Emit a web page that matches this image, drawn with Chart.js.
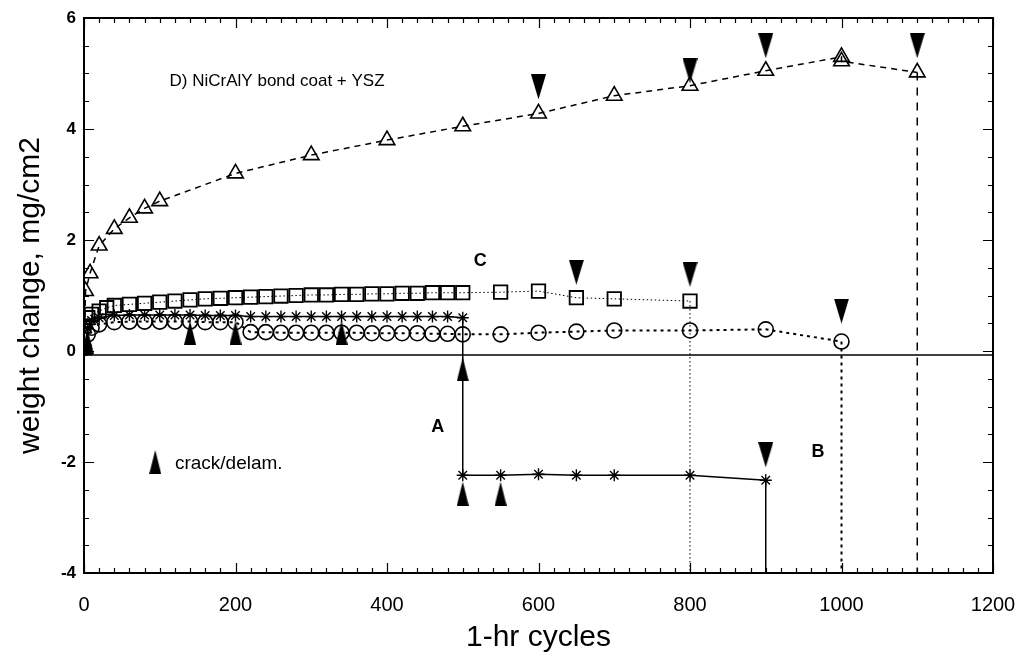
<!DOCTYPE html>
<html>
<head>
<meta charset="utf-8">
<script src="https://cdn.jsdelivr.net/npm/chart.js@4.4.0/dist/chart.umd.min.js"></script>
<style>
  html, body { margin: 0; padding: 0; background: #fff; }
  #wrap { width: 1024px; height: 658px; }
</style>
</head>
<body>
<div id="wrap"><canvas id="chart" width="1024" height="658"></canvas></div>
<script>
// D) NiCrAlY bond coat + YSZ  (open triangles, dashed)
const xD = [0, 2, 8, 20, 40, 60, 80, 100, 200, 300, 400, 500, 600, 700, 800, 900, 1000, 1000, 1100];
const yD = [0.02, 1.08, 1.4, 1.9, 2.2, 2.4, 2.57, 2.7, 3.2, 3.53, 3.8, 4.05, 4.28, 4.6, 4.78, 5.05, 5.3, 5.22, 5.02];

// C (squares, fine dots)
const xC = [0, 5, 10, 20, 30, 40, 60, 80, 100, 120, 140, 160, 180, 200, 220, 240, 260, 280, 300, 320, 340, 360, 380, 400, 420, 440, 460, 480, 500, 550, 600, 650, 700, 800];
const yC = [0.45, 0.6, 0.66, 0.72, 0.78, 0.82, 0.84, 0.86, 0.88, 0.9, 0.92, 0.94, 0.95, 0.96, 0.97, 0.98, 0.99, 1.0, 1.01, 1.01, 1.02, 1.02, 1.03, 1.03, 1.04, 1.04, 1.05, 1.05, 1.05, 1.06, 1.08, 0.96, 0.94, 0.9];

// B (circles, coarse dots)
const xB = [0, 5, 10, 20, 40, 60, 80, 100, 120, 140, 160, 180, 200, 220, 240, 260, 280, 300, 320, 340, 360, 380, 400, 420, 440, 460, 480, 500, 550, 600, 650, 700, 800, 900, 1000];
const yB = [0.05, 0.3, 0.42, 0.48, 0.52, 0.53, 0.53, 0.53, 0.53, 0.53, 0.52, 0.52, 0.52, 0.34, 0.34, 0.33, 0.33, 0.33, 0.33, 0.33, 0.33, 0.32, 0.32, 0.32, 0.32, 0.31, 0.31, 0.3, 0.3, 0.33, 0.35, 0.37, 0.37, 0.39, 0.17];

// A (asterisks, solid)
const xA = [0, 5, 10, 20, 40, 60, 80, 100, 120, 140, 160, 180, 200, 220, 240, 260, 280, 300, 320, 340, 360, 380, 400, 420, 440, 460, 480, 500, 500, 550, 600, 650, 700, 800, 900];
const yA = [0.02, 0.4, 0.55, 0.6, 0.64, 0.65, 0.65, 0.65, 0.65, 0.65, 0.64, 0.64, 0.64, 0.62, 0.62, 0.62, 0.62, 0.62, 0.62, 0.62, 0.62, 0.62, 0.62, 0.62, 0.62, 0.62, 0.62, 0.6, -2.24, -2.24, -2.22, -2.24, -2.24, -2.24, -2.33];

// end-of-test drop lines (x, y from, y to)
const dropA = { x: 900, from: -2.33, to: -4 };
const dropB = { x: 1000, from: 0.17, to: -4 };
const dropC = { x: 800, from: 0.9, to: -4 };
const dropD = { x: 1100, from: 5.02, to: -4 };

// failure markers (filled, pointing down)
const failX = [600, 800, 900, 1100, 650, 800, 1000, 900];
const failY = [4.76, 5.05, 5.5, 5.5, 1.42, 1.38, 0.72, -1.87];

// crack/delam. markers (filled, pointing up)
const crackX = [5, 140, 200, 340, 500, 500, 550];
const crackY = [0.16, 0.33, 0.33, 0.33, -0.33, -2.57, -2.57];

const zeroLineY = -0.07;

const xTicks = [0, 200, 400, 600, 800, 1000, 1200];
const yTicks = [-4, -2, 0, 2, 4, 6];

const FONT = '"Liberation Sans", Arial, sans-serif';

function pts(xs, ys) {
  return xs.map((x, i) => ({ x: x, y: ys[i] }));
}

function arrowImage(down, w, h) {
  const c = document.createElement('canvas');
  c.width = w; c.height = h;
  const g = c.getContext('2d');
  g.fillStyle = '#000';
  g.beginPath();
  if (down) {
    g.moveTo(0, 0); g.lineTo(w, 0); g.lineTo(w / 2, h);
  } else {
    g.moveTo(w / 2, 0); g.lineTo(w, h); g.lineTo(0, h);
  }
  g.closePath();
  g.fill();
  return c;
}

const downArrow = arrowImage(true, 15, 25);
const upArrow = arrowImage(false, 12, 24);

const noFill = 'rgba(255,255,255,0)';

function drop(d, dash, width) {
  return {
    data: [{ x: d.x, y: d.from }, { x: d.x, y: d.to }],
    showLine: true, borderColor: '#000', borderWidth: width, borderDash: dash,
    pointRadius: 0
  };
}

const annotations = {
  id: 'annotations',
  beforeDatasetsDraw(chart) {
    const { ctx, chartArea: a, scales: { x, y } } = chart;
    ctx.save();
    ctx.strokeStyle = '#000';
    ctx.lineWidth = 2;
    ctx.strokeRect(a.left, a.top, a.right - a.left, a.bottom - a.top);
    ctx.lineWidth = 1.2;
    ctx.beginPath();
    for (let v = 0; v <= 1200; v += 20) {
      const px = Math.round(x.getPixelForValue(v)) + 0.5;
      const len = v % 200 === 0 ? 10 : 5;
      ctx.moveTo(px, a.bottom); ctx.lineTo(px, a.bottom - len);
      ctx.moveTo(px, a.top); ctx.lineTo(px, a.top + len);
    }
    for (let v = -4; v <= 6; v += 0.5) {
      const py = Math.round(y.getPixelForValue(v)) + 0.5;
      const len = v % 2 === 0 ? 10 : 5;
      ctx.moveTo(a.left, py); ctx.lineTo(a.left + len, py);
      ctx.moveTo(a.right, py); ctx.lineTo(a.right - len, py);
    }
    ctx.stroke();
    ctx.restore();
  },
  afterDatasetsDraw(chart) {
    const { ctx, scales: { x, y } } = chart;
    ctx.save();
    ctx.fillStyle = '#000';
    ctx.textBaseline = 'middle';
    ctx.font = '17px ' + FONT;
    ctx.textAlign = 'left';
    ctx.fillText('D) NiCrAlY bond coat + YSZ', x.getPixelForValue(113), y.getPixelForValue(4.86));
    ctx.font = '19px ' + FONT;
    ctx.fillText('crack/delam.', x.getPixelForValue(120), y.getPixelForValue(-2.04));
    ctx.font = 'bold 18px ' + FONT;
    ctx.textAlign = 'center';
    ctx.fillText('C', x.getPixelForValue(523), y.getPixelForValue(1.62));
    ctx.fillText('A', x.getPixelForValue(467), y.getPixelForValue(-1.37));
    ctx.fillText('B', x.getPixelForValue(969), y.getPixelForValue(-1.82));
    // legend key for crack/delam.
    const kx = x.getPixelForValue(94), ky = y.getPixelForValue(-2.0);
    ctx.drawImage(upArrow, kx - upArrow.width / 2, ky - upArrow.height / 2);
    ctx.restore();
  }
};

new Chart(document.getElementById('chart'), {
  type: 'scatter',
  data: {
    datasets: [
      { data: pts(failX, failY), pointStyle: downArrow, pointRadius: 8, showLine: false },
      { data: pts(crackX, crackY), pointStyle: upArrow, pointRadius: 8, showLine: false },
      {
        data: pts(xD, yD), showLine: true, borderColor: '#000', borderWidth: 1.5, borderDash: [6, 5],
        pointStyle: 'triangle', pointRadius: 9, pointBorderWidth: 1.6, pointBackgroundColor: noFill, pointBorderColor: '#000'
      },
      {
        data: pts(xC, yC), showLine: true, borderColor: '#000', borderWidth: 1, borderDash: [1.5, 2.5],
        pointStyle: 'rect', pointRadius: 9.5, pointBorderWidth: 1.8, pointBackgroundColor: noFill, pointBorderColor: '#000'
      },
      {
        data: pts(xB, yB), showLine: true, borderColor: '#000', borderWidth: 2, borderDash: [3, 4],
        pointStyle: 'circle', pointRadius: 7.5, pointBorderWidth: 1.6, pointBackgroundColor: noFill, pointBorderColor: '#000'
      },
      {
        data: pts(xA, yA), showLine: true, borderColor: '#000', borderWidth: 1.5,
        pointStyle: 'star', pointRadius: 6, pointBorderWidth: 1.4, pointBackgroundColor: noFill, pointBorderColor: '#000'
      },
      drop(dropA, [], 1.5),
      drop(dropB, [3, 4], 2),
      drop(dropC, [1.5, 2.5], 1),
      drop(dropD, [8, 7], 1.5),
      {
        data: [{ x: 0, y: zeroLineY }, { x: 1200, y: zeroLineY }],
        showLine: true, borderColor: '#000', borderWidth: 1.5, pointRadius: 0
      }
    ]
  },
  options: {
    responsive: false,
    animation: false,
    devicePixelRatio: 1,
    layout: { padding: { top: 18, right: 31, left: 0, bottom: 0 } },
    elements: { line: { tension: 0 } },
    plugins: { legend: { display: false }, tooltip: { enabled: false } },
    scales: {
      x: {
        type: 'linear', min: 0, max: 1200,
        afterFit: (s) => { s.height = 85; s.paddingLeft = 0; s.paddingRight = 0; },
        afterBuildTicks: (s) => { s.ticks = xTicks.map(v => ({ value: v })); },
        grid: { display: false, drawTicks: false },
        border: { display: false },
        ticks: {
          padding: 20, maxRotation: 0, autoSkip: false, color: '#000',
          callback: (v) => String(v),
          font: { family: FONT, size: 20 }
        },
        title: {
          display: true, text: '1-hr cycles', color: '#000',
          font: { family: FONT, size: 30 },
          padding: { top: 0, bottom: 2 }
        }
      },
      y: {
        type: 'linear', min: -4, max: 6,
        afterFit: (s) => { s.width = 84; s.paddingTop = 0; s.paddingBottom = 0; },
        afterBuildTicks: (s) => { s.ticks = yTicks.map(v => ({ value: v })); },
        grid: { display: false, drawTicks: false },
        border: { display: false },
        ticks: {
          padding: 8, autoSkip: false, color: '#000',
          callback: (v) => String(v),
          font: { family: FONT, size: 17, weight: 'bold' }
        },
        title: {
          display: true, text: 'weight change, mg/cm2', color: '#000',
          font: { family: FONT, size: 30 },
          padding: { top: 13, bottom: 0 }
        }
      }
    }
  },
  plugins: [annotations]
});
</script>
</body>
</html>
